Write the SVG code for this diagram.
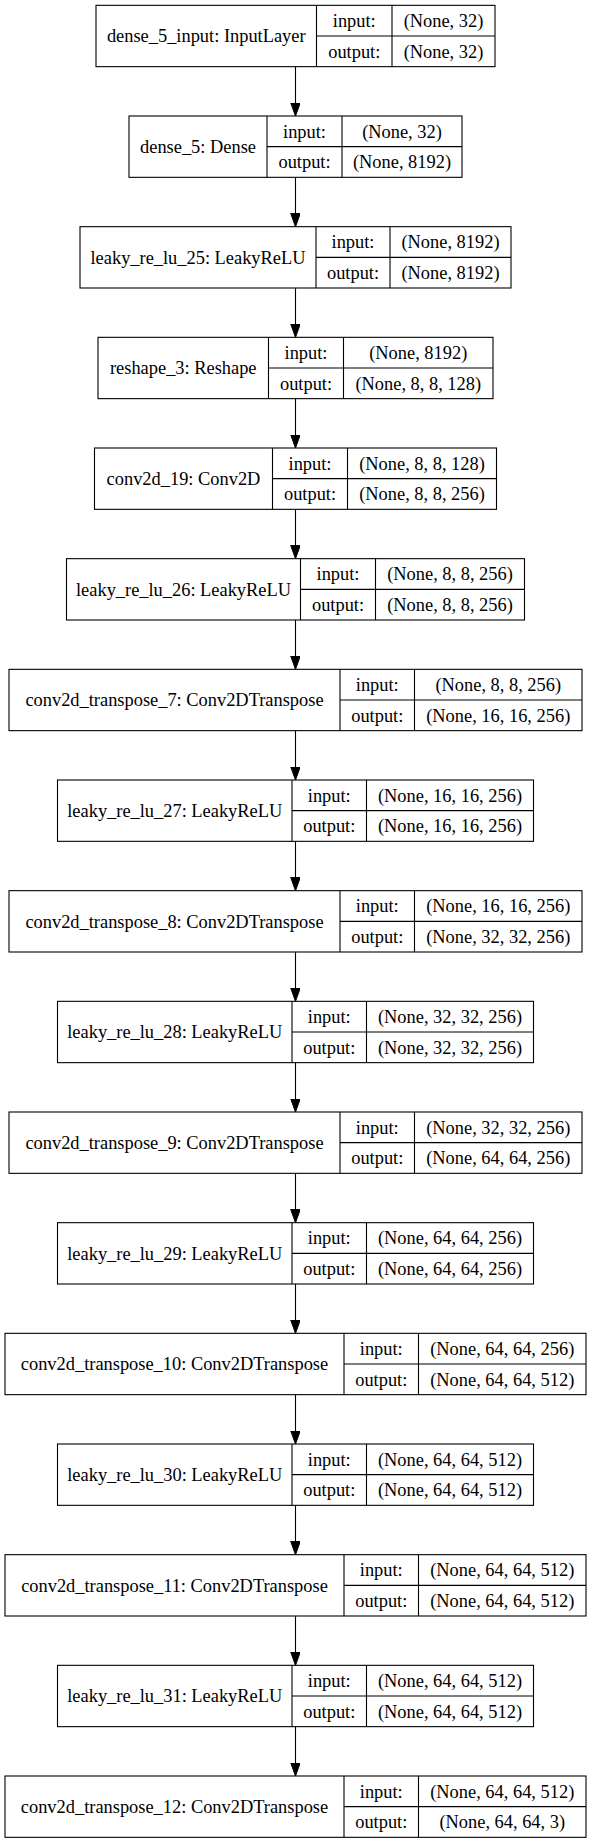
<svg xmlns="http://www.w3.org/2000/svg" width="591" height="1844" viewBox="0 0 591 1844">
<style>
rect{fill:#fff;stroke:#000;stroke-width:1.1}
line.d{stroke:#000;stroke-width:1.1}
text{font-family:"Liberation Serif","Times New Roman",serif;font-size:18.4px;fill:#000;text-anchor:middle}
.e line{stroke:#000;stroke-width:1.1}
</style>
<defs>
<marker id="ah" markerUnits="userSpaceOnUse" markerWidth="14" markerHeight="10" refX="13.33" refY="4.8" orient="auto">
<path d="M0,0 L13.33,4.8 L0,9.6 z" fill="#000" stroke="#000" stroke-width="1"/>
</marker>
</defs>
<rect x="0" y="0" width="591" height="1844" style="stroke:none;fill:#fff"/>
<g class="e" id="connectors">
<line x1="295.5" y1="66.7" x2="295.5" y2="116" marker-end="url(#ah)"/>
<line x1="295.5" y1="177.3" x2="295.5" y2="226.7" marker-end="url(#ah)"/>
<line x1="295.5" y1="288" x2="295.5" y2="337.3" marker-end="url(#ah)"/>
<line x1="295.5" y1="398.7" x2="295.5" y2="448" marker-end="url(#ah)"/>
<line x1="295.5" y1="509.3" x2="295.5" y2="558.7" marker-end="url(#ah)"/>
<line x1="295.5" y1="620" x2="295.5" y2="669.3" marker-end="url(#ah)"/>
<line x1="295.5" y1="730.7" x2="295.5" y2="780" marker-end="url(#ah)"/>
<line x1="295.5" y1="841.3" x2="295.5" y2="890.7" marker-end="url(#ah)"/>
<line x1="295.5" y1="952" x2="295.5" y2="1001.3" marker-end="url(#ah)"/>
<line x1="295.5" y1="1062.7" x2="295.5" y2="1112" marker-end="url(#ah)"/>
<line x1="295.5" y1="1173.3" x2="295.5" y2="1222.7" marker-end="url(#ah)"/>
<line x1="295.5" y1="1284" x2="295.5" y2="1333.3" marker-end="url(#ah)"/>
<line x1="295.5" y1="1394.7" x2="295.5" y2="1444" marker-end="url(#ah)"/>
<line x1="295.5" y1="1505.3" x2="295.5" y2="1554.7" marker-end="url(#ah)"/>
<line x1="295.5" y1="1616" x2="295.5" y2="1665.3" marker-end="url(#ah)"/>
<line x1="295.5" y1="1726.7" x2="295.5" y2="1776" marker-end="url(#ah)"/>
</g>

<g id="n0" transform="translate(0,5.33)">
<rect x="96" y="0" width="399" height="61.33"/>
<line class="d" x1="316.5" y1="0" x2="316.5" y2="61.33"/><line class="d" x1="392" y1="0" x2="392" y2="61.33"/><line class="d" x1="316.5" y1="30.67" x2="495" y2="30.67"/>
<text x="206.25" y="36.9">dense_5_input: InputLayer</text>
<text x="354.25" y="21.6">input:</text><text x="354.25" y="52.2">output:</text>
<text x="443.5" y="21.6">(None, 32)</text><text x="443.5" y="52.2">(None, 32)</text>
</g>

<g id="n1" transform="translate(0,116)">
<rect x="129" y="0" width="333" height="61.33"/>
<line class="d" x1="267" y1="0" x2="267" y2="61.33"/><line class="d" x1="342" y1="0" x2="342" y2="61.33"/><line class="d" x1="267" y1="30.67" x2="462" y2="30.67"/>
<text x="198" y="36.9">dense_5: Dense</text>
<text x="304.5" y="21.6">input:</text><text x="304.5" y="52.2">output:</text>
<text x="402" y="21.6">(None, 32)</text><text x="402" y="52.2">(None, 8192)</text>
</g>

<g id="n2" transform="translate(0,226.67)">
<rect x="80" y="0" width="431" height="61.33"/>
<line class="d" x1="316" y1="0" x2="316" y2="61.33"/><line class="d" x1="390" y1="0" x2="390" y2="61.33"/><line class="d" x1="316" y1="30.67" x2="511" y2="30.67"/>
<text x="198" y="36.9">leaky_re_lu_25: LeakyReLU</text>
<text x="353" y="21.6">input:</text><text x="353" y="52.2">output:</text>
<text x="450.5" y="21.6">(None, 8192)</text><text x="450.5" y="52.2">(None, 8192)</text>
</g>

<g id="n3" transform="translate(0,337.33)">
<rect x="98" y="0" width="395" height="61.33"/>
<line class="d" x1="268.5" y1="0" x2="268.5" y2="61.33"/><line class="d" x1="343.5" y1="0" x2="343.5" y2="61.33"/><line class="d" x1="268.5" y1="30.67" x2="493" y2="30.67"/>
<text x="183.25" y="36.9">reshape_3: Reshape</text>
<text x="306" y="21.6">input:</text><text x="306" y="52.2">output:</text>
<text x="418.25" y="21.6">(None, 8192)</text><text x="418.25" y="52.2">(None, 8, 8, 128)</text>
</g>

<g id="n4" transform="translate(0,448)">
<rect x="94.5" y="0" width="402" height="61.33"/>
<line class="d" x1="272.5" y1="0" x2="272.5" y2="61.33"/><line class="d" x1="347.5" y1="0" x2="347.5" y2="61.33"/><line class="d" x1="272.5" y1="30.67" x2="496.5" y2="30.67"/>
<text x="183.5" y="36.9">conv2d_19: Conv2D</text>
<text x="310" y="21.6">input:</text><text x="310" y="52.2">output:</text>
<text x="422" y="21.6">(None, 8, 8, 128)</text><text x="422" y="52.2">(None, 8, 8, 256)</text>
</g>

<g id="n5" transform="translate(0,558.67)">
<rect x="66.5" y="0" width="458" height="61.33"/>
<line class="d" x1="300.5" y1="0" x2="300.5" y2="61.33"/><line class="d" x1="375.5" y1="0" x2="375.5" y2="61.33"/><line class="d" x1="300.5" y1="30.67" x2="524.5" y2="30.67"/>
<text x="183.5" y="36.9">leaky_re_lu_26: LeakyReLU</text>
<text x="338" y="21.6">input:</text><text x="338" y="52.2">output:</text>
<text x="450" y="21.6">(None, 8, 8, 256)</text><text x="450" y="52.2">(None, 8, 8, 256)</text>
</g>

<g id="n6" transform="translate(0,669.33)">
<rect x="9" y="0" width="573" height="61.33"/>
<line class="d" x1="340" y1="0" x2="340" y2="61.33"/><line class="d" x1="414.5" y1="0" x2="414.5" y2="61.33"/><line class="d" x1="340" y1="30.67" x2="582" y2="30.67"/>
<text x="174.5" y="36.9">conv2d_transpose_7: Conv2DTranspose</text>
<text x="377.25" y="21.6">input:</text><text x="377.25" y="52.2">output:</text>
<text x="498.25" y="21.6">(None, 8, 8, 256)</text><text x="498.25" y="52.2">(None, 16, 16, 256)</text>
</g>

<g id="n7" transform="translate(0,780)">
<rect x="57.5" y="0" width="476" height="61.33"/>
<line class="d" x1="292" y1="0" x2="292" y2="61.33"/><line class="d" x1="366.5" y1="0" x2="366.5" y2="61.33"/><line class="d" x1="292" y1="30.67" x2="533.5" y2="30.67"/>
<text x="174.75" y="36.9">leaky_re_lu_27: LeakyReLU</text>
<text x="329.25" y="21.6">input:</text><text x="329.25" y="52.2">output:</text>
<text x="450" y="21.6">(None, 16, 16, 256)</text><text x="450" y="52.2">(None, 16, 16, 256)</text>
</g>

<g id="n8" transform="translate(0,890.67)">
<rect x="9" y="0" width="573" height="61.33"/>
<line class="d" x1="340" y1="0" x2="340" y2="61.33"/><line class="d" x1="414.5" y1="0" x2="414.5" y2="61.33"/><line class="d" x1="340" y1="30.67" x2="582" y2="30.67"/>
<text x="174.5" y="36.9">conv2d_transpose_8: Conv2DTranspose</text>
<text x="377.25" y="21.6">input:</text><text x="377.25" y="52.2">output:</text>
<text x="498.25" y="21.6">(None, 16, 16, 256)</text><text x="498.25" y="52.2">(None, 32, 32, 256)</text>
</g>

<g id="n9" transform="translate(0,1001.33)">
<rect x="57.5" y="0" width="476" height="61.33"/>
<line class="d" x1="292" y1="0" x2="292" y2="61.33"/><line class="d" x1="366.5" y1="0" x2="366.5" y2="61.33"/><line class="d" x1="292" y1="30.67" x2="533.5" y2="30.67"/>
<text x="174.75" y="36.9">leaky_re_lu_28: LeakyReLU</text>
<text x="329.25" y="21.6">input:</text><text x="329.25" y="52.2">output:</text>
<text x="450" y="21.6">(None, 32, 32, 256)</text><text x="450" y="52.2">(None, 32, 32, 256)</text>
</g>

<g id="n10" transform="translate(0,1112)">
<rect x="9" y="0" width="573" height="61.33"/>
<line class="d" x1="340" y1="0" x2="340" y2="61.33"/><line class="d" x1="414.5" y1="0" x2="414.5" y2="61.33"/><line class="d" x1="340" y1="30.67" x2="582" y2="30.67"/>
<text x="174.5" y="36.9">conv2d_transpose_9: Conv2DTranspose</text>
<text x="377.25" y="21.6">input:</text><text x="377.25" y="52.2">output:</text>
<text x="498.25" y="21.6">(None, 32, 32, 256)</text><text x="498.25" y="52.2">(None, 64, 64, 256)</text>
</g>

<g id="n11" transform="translate(0,1222.67)">
<rect x="57.5" y="0" width="476" height="61.33"/>
<line class="d" x1="292" y1="0" x2="292" y2="61.33"/><line class="d" x1="366.5" y1="0" x2="366.5" y2="61.33"/><line class="d" x1="292" y1="30.67" x2="533.5" y2="30.67"/>
<text x="174.75" y="36.9">leaky_re_lu_29: LeakyReLU</text>
<text x="329.25" y="21.6">input:</text><text x="329.25" y="52.2">output:</text>
<text x="450" y="21.6">(None, 64, 64, 256)</text><text x="450" y="52.2">(None, 64, 64, 256)</text>
</g>

<g id="n12" transform="translate(0,1333.33)">
<rect x="5" y="0" width="581" height="61.33"/>
<line class="d" x1="344" y1="0" x2="344" y2="61.33"/><line class="d" x1="418.5" y1="0" x2="418.5" y2="61.33"/><line class="d" x1="344" y1="30.67" x2="586" y2="30.67"/>
<text x="174.5" y="36.9">conv2d_transpose_10: Conv2DTranspose</text>
<text x="381.25" y="21.6">input:</text><text x="381.25" y="52.2">output:</text>
<text x="502.25" y="21.6">(None, 64, 64, 256)</text><text x="502.25" y="52.2">(None, 64, 64, 512)</text>
</g>

<g id="n13" transform="translate(0,1444)">
<rect x="57.5" y="0" width="476" height="61.33"/>
<line class="d" x1="292" y1="0" x2="292" y2="61.33"/><line class="d" x1="366.5" y1="0" x2="366.5" y2="61.33"/><line class="d" x1="292" y1="30.67" x2="533.5" y2="30.67"/>
<text x="174.75" y="36.9">leaky_re_lu_30: LeakyReLU</text>
<text x="329.25" y="21.6">input:</text><text x="329.25" y="52.2">output:</text>
<text x="450" y="21.6">(None, 64, 64, 512)</text><text x="450" y="52.2">(None, 64, 64, 512)</text>
</g>

<g id="n14" transform="translate(0,1554.67)">
<rect x="5" y="0" width="581" height="61.33"/>
<line class="d" x1="344" y1="0" x2="344" y2="61.33"/><line class="d" x1="418.5" y1="0" x2="418.5" y2="61.33"/><line class="d" x1="344" y1="30.67" x2="586" y2="30.67"/>
<text x="174.5" y="36.9">conv2d_transpose_11: Conv2DTranspose</text>
<text x="381.25" y="21.6">input:</text><text x="381.25" y="52.2">output:</text>
<text x="502.25" y="21.6">(None, 64, 64, 512)</text><text x="502.25" y="52.2">(None, 64, 64, 512)</text>
</g>

<g id="n15" transform="translate(0,1665.33)">
<rect x="57.5" y="0" width="476" height="61.33"/>
<line class="d" x1="292" y1="0" x2="292" y2="61.33"/><line class="d" x1="366.5" y1="0" x2="366.5" y2="61.33"/><line class="d" x1="292" y1="30.67" x2="533.5" y2="30.67"/>
<text x="174.75" y="36.9">leaky_re_lu_31: LeakyReLU</text>
<text x="329.25" y="21.6">input:</text><text x="329.25" y="52.2">output:</text>
<text x="450" y="21.6">(None, 64, 64, 512)</text><text x="450" y="52.2">(None, 64, 64, 512)</text>
</g>

<g id="n16" transform="translate(0,1776)">
<rect x="5" y="0" width="581" height="61.33"/>
<line class="d" x1="344" y1="0" x2="344" y2="61.33"/><line class="d" x1="418.5" y1="0" x2="418.5" y2="61.33"/><line class="d" x1="344" y1="30.67" x2="586" y2="30.67"/>
<text x="174.5" y="36.9">conv2d_transpose_12: Conv2DTranspose</text>
<text x="381.25" y="21.6">input:</text><text x="381.25" y="52.2">output:</text>
<text x="502.25" y="21.6">(None, 64, 64, 512)</text><text x="502.25" y="52.2">(None, 64, 64, 3)</text>
</g>
</svg>
